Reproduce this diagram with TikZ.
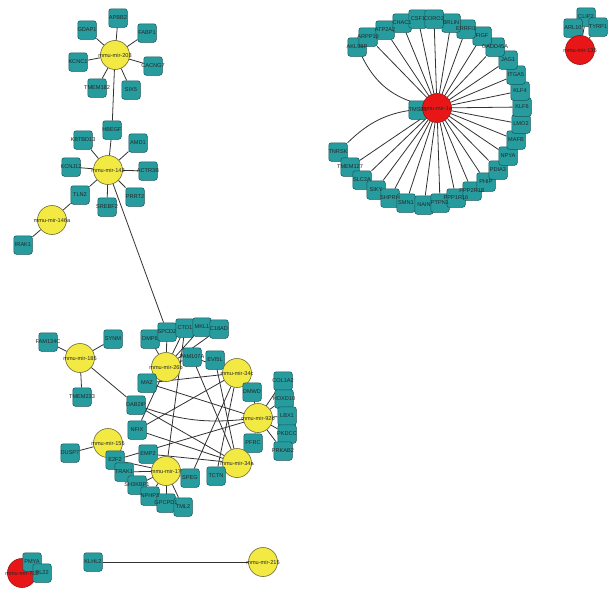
\documentclass[tikz,border=0pt]{standalone}
\usepackage{fontspec}
\setmainfont{Liberation Sans}
\usetikzlibrary{backgrounds}
\pgfdeclarelayer{fg}
\pgfsetlayers{background,main,fg}
\definecolor{tealF}{RGB}{38,156,158}
\definecolor{tealD}{RGB}{25,85,90}
\definecolor{yelF}{RGB}{242,234,66}
\definecolor{yelD}{RGB}{110,105,50}
\definecolor{redF}{RGB}{232,22,22}
\definecolor{redD}{RGB}{150,20,20}
\definecolor{edgeC}{RGB}{50,50,50}
\tikzset{
  gene/.style={rectangle, rounded corners=2.5pt, minimum size=18.5pt, inner sep=0pt, fill=tealF, draw=tealD, line width=0.5pt},
  mirY/.style={circle, minimum size=29pt, inner sep=0pt, fill=yelF, draw=yelD, line width=0.6pt},
  mirR/.style={circle, minimum size=29pt, inner sep=0pt, fill=redF, draw=redD, line width=0.6pt},
  lbl/.style={font=\fontsize{5.6}{5.6}\selectfont, text=black!85, inner sep=0pt},
  edge/.style={draw=edgeC, line width=0.8pt}
}
\newcommand\gn[3]{\node[gene] (#1) at (#2) {};\begin{pgfonlayer}{fg}\node[lbl] (#1l) at (#2) {#3};\end{pgfonlayer}}
\newcommand\mn[4]{\node[#1] (#2) at (#3) {};\begin{pgfonlayer}{fg}\node[lbl] (#2l) at (#3) {#4};\end{pgfonlayer}}
\begin{document}
\begin{tikzpicture}[x=1pt,y=-1pt]
\useasboundingbox (0,0) rectangle (616,589);
% ---- cluster mir-203 / mir-142 / mir-146a
\gn{apbb2}{118,18}{APBB2}
\gn{fabp1}{147,33}{FABP1}
\gn{gdap1}{87,30}{GDAP1}
\gn{kcnc1}{78,62}{KCNC1}
\gn{cacng7}{153,66}{CACNG7}
\gn{tmem182}{97,88}{TMEM182}
\gn{six5}{131,90}{SIX5}
\mn{mirY}{m203}{115,55}{mmu-mir-203}
\gn{hbegf}{112,130}{HBEGF}
\gn{kbtbd13}{83,140}{KBTBD13}
\gn{amd1}{138,143}{AMD1}
\gn{kcnj12}{71,167}{KCNJ12}
\gn{actr3b}{148,171}{ACTR3B}
\gn{tln2}{80,195}{TLN2}
\gn{srebf2}{107,207}{SREBF2}
\gn{prrt2}{135,197}{PRRT2}
\mn{mirY}{m142}{108,170}{mmu-mir-142}
\gn{irak1}{23,245}{IRAK1}
\mn{mirY}{m146}{52,220}{mmu-mir-146a}
% ---- top right arc
\gn{tnrsk}{338,152}{TNRSK}
\gn{tmem127}{350,167}{TMEM127}
\gn{slc2a}{362,180}{SLC2A}
\gn{siky}{376,190}{SIKY}
\gn{shprh}{390,198}{SHPRH}
\gn{smn1}{406,203}{SMN1}
\gn{nain}{424,205}{NAIN}
\gn{ptpn1}{440,203}{PTPN1}
\gn{ppp1r16}{456,198}{PPP1R16}
\gn{ppp2r1b}{472,191}{PPP2R1B}
\gn{phip}{486,182}{PHIP}
\gn{pdia3}{498,170}{PDIA3}
\gn{npya}{508,156}{NPYA}
\gn{mafb}{516,140}{MAFB}
\gn{lmo2}{521,124}{LMO2}
\gn{klf6}{522,107}{KLF6}
\gn{klf4}{520,91}{KLF4}
\gn{itga5}{516,75}{ITGA5}
\gn{jag1}{508,60}{JAG1}
\gn{gadd45a}{495,47}{GADD45A}
\gn{figf}{482,36}{FIGF}
\gn{errfi1}{466,29}{ERRFI1}
\gn{brlin}{451,23}{BRLIN}
\gn{akl98p}{357,47}{AKL98P}
\gn{arpp19}{368,37}{ARPP19}
\gn{atp2a2}{385,30}{ATP2A2}
\gn{chac1}{402,23}{CHAC1}
\gn{csf1}{418,19}{CSF1}
\gn{coro2}{434,19}{CORO2}
\gn{tmsb1}{418,110}{TMSB1}
\mn{mirR}{m1a}{437,108}{mmu-mir-1a}
% ---- far top right
\gn{clip2}{586,17}{CLIP2}
\gn{arl10}{573,28}{ARL10}
\gn{tyrp1}{598,27}{TYRP1}
\mn{mirR}{m135}{580,50}{mmu-mir-135}
% ---- lower cluster
\mn{mirY}{m185}{80,358}{mmu-mir-185}
\gn{fam134c}{48,342}{FAM134C}
\gn{synm}{113,339}{SYNM}
\gn{tmem233}{82,397}{TMEM233}
\gn{dab2ip}{136,405}{DAB2IP}
\mn{mirY}{m26b}{166,367}{mmu-mir-26b}
\gn{dmp6}{150,339}{DMP6}
\gn{spcd2}{167,332}{SPCD2}
\gn{ctd1}{185,328}{CTD1}
\gn{mkl1}{202,327}{MKL1}
\gn{c18ad}{219,329}{C18AD}
\gn{fam107a}{192,357}{FAM107A}
\gn{evi5l}{215,360}{EVI5L}
\gn{maz}{147,383}{MAZ}
\mn{mirY}{m34c}{237,373}{mmu-mir-34c}
\gn{dmwd}{252,392}{DMWD}
\gn{col1a2}{283,381}{COL1A2}
\gn{hoxd10}{284,399}{HOXD10}
\gn{lbx1}{287,416}{LBX1}
\gn{pkdcc}{287,434}{PKDCC}
\gn{prkab2}{283,451}{PRKAB2}
\mn{mirY}{m92b}{258,418}{mmu-mir-92b}
\gn{pfrc}{253,443}{PFRC}
\mn{mirY}{m34a}{237,463}{mmu-mir-34a}
\gn{tctn}{216,476}{TCTN}
\gn{nfix}{137,430}{NFIX}
\gn{emp2}{148,454}{EMP2}
\mn{mirY}{m155}{108,443}{mmu-mir-155}
\gn{dusp7}{70,453}{DUSP7}
\gn{e2f2}{115,460}{E2F2}
\gn{trak1}{124,472}{TRAK1}
\gn{sh3kbp1}{137,485}{SH3KBP1}
\gn{nphp3}{150,496}{NPHP3}
\gn{gpcpd1}{166,503}{GPCPD1}
\gn{tml2}{183,507}{TML2}
\mn{mirY}{m17}{166,471}{mmu-mir-17}
\gn{speg}{190,478}{SPEG}
% ---- bottom
\mn{mirR}{m712}{22,573}{mmu-mir-712}
\gn{pmya}{32,562}{PMYA}
\gn{rl22}{42,573}{RL22}
\gn{klhl2}{93,562}{KLHL2}
\mn{mirY}{m215}{263,562}{mmu-mir-215}
% ---- edges
\begin{pgfonlayer}{background}
\foreach \g in {apbb2,fabp1,gdap1,kcnc1,cacng7,tmem182,six5,hbegf} \draw[edge] (m203) -- (\g);
\foreach \g in {hbegf,kbtbd13,amd1,kcnj12,actr3b,tln2,srebf2,prrt2,spcd2} \draw[edge] (m142) -- (\g);
\foreach \g in {tln2,irak1} \draw[edge] (m146) -- (\g);
\foreach \g in {tmsb1,tmem127,slc2a,siky,shprh,smn1,nain,ptpn1,ppp1r16,ppp2r1b,phip,pdia3,npya,mafb,lmo2,klf6,klf4,itga5,jag1,gadd45a,figf,errfi1,brlin,arpp19,atp2a2,chac1,csf1,coro2} \draw[edge] (m1a) -- (\g);
\draw[edge] (m1a) to[bend left=25] (akl98p);
\draw[edge] (m1a) to[bend right=20] (tnrsk);
\foreach \g in {clip2,arl10,tyrp1} \draw[edge] (m135) -- (\g);
\foreach \g in {fam134c,synm,tmem233,dab2ip} \draw[edge] (m185) -- (\g);
\foreach \g in {dmp6,spcd2,ctd1,mkl1,c18ad,fam107a,maz,nfix} \draw[edge] (m26b) -- (\g);
\foreach \g in {evi5l,dmwd,maz,nfix,speg,tctn,fam107a} \draw[edge] (m34c) -- (\g);
\foreach \g in {col1a2,hoxd10,lbx1,pkdcc,prkab2,pfrc,dmwd,e2f2,maz} \draw[edge] (m92b) -- (\g);
\draw[edge] (m92b) to[bend left=12] (dab2ip);
\foreach \g in {fam107a,dab2ip,evi5l,tctn,pfrc,emp2,nfix} \draw[edge] (m34a) -- (\g);
\foreach \g in {emp2,speg,trak1,sh3kbp1,nphp3,gpcpd1,tml2,e2f2,ctd1} \draw[edge] (m17) -- (\g);
\foreach \g in {dusp7,e2f2} \draw[edge] (m155) -- (\g);
\foreach \g in {pmya,rl22} \draw[edge] (m712) -- (\g);
\draw[edge] (klhl2) -- (m215);
\end{pgfonlayer}
\end{tikzpicture}
\end{document}
